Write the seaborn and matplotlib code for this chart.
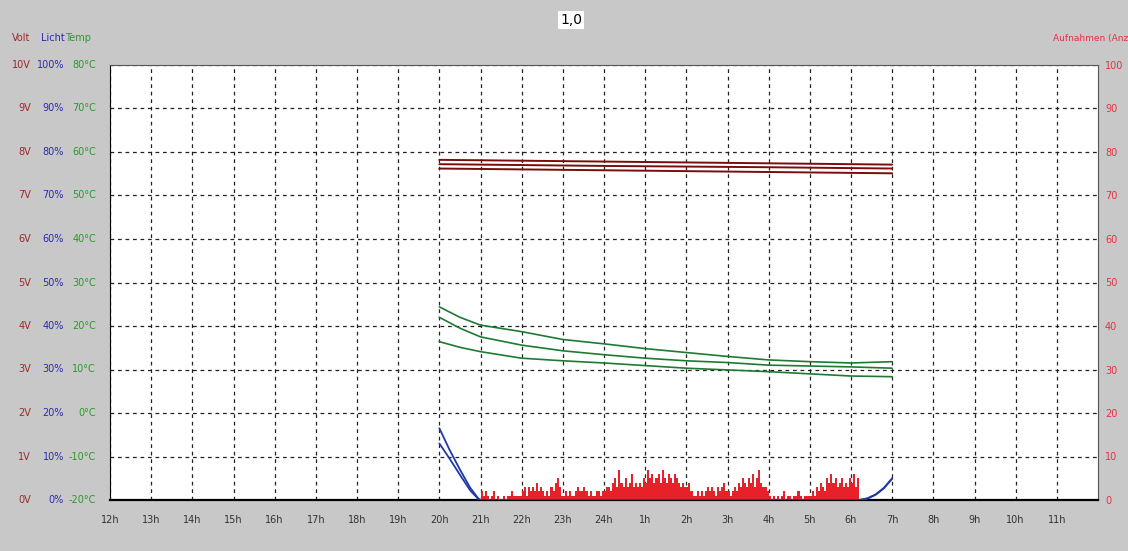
import numpy as np
import pandas as pd
import matplotlib
matplotlib.use("Agg")
import matplotlib.pyplot as plt
import matplotlib.transforms as mtransforms
import seaborn as sns

# ---- data (hours since midnight of day 1; 31 = 7h next morning) ----
hour_ticks = list(range(12, 36))
hour_labels = [f"{h if h <= 24 else h - 24}h" for h in hour_ticks]

volt_x = [20, 24, 28, 31]
volt_top = [7.82, 7.78, 7.74, 7.71]
volt_mid = [7.72, 7.68, 7.65, 7.62]
volt_low = [7.62, 7.58, 7.54, 7.51]

temp_x = [20, 20.5, 21, 22, 23, 24, 25, 26, 27, 28, 29, 30, 31]
temp_top = [24.4, 22.0, 20.2, 18.7, 16.9, 15.9, 14.8, 13.9, 13.0, 12.2, 11.8, 11.5, 11.8]
temp_mid = [22.0, 19.5, 17.5, 15.6, 14.3, 13.4, 12.6, 12.0, 11.6, 11.0, 10.8, 10.6, 10.3]
temp_low = [16.4, 15.1, 14.1, 12.6, 12.0, 11.5, 10.9, 10.3, 9.9, 9.5, 9.0, 8.5, 8.35]

licht_x = [20.0, 20.25, 20.5, 20.75, 20.95, 21.0, 25.0, 30.2, 30.4, 30.6, 30.8, 31.0]
licht_a = [16.5, 11.5, 7.0, 2.8, 0.3, 0.0, 0.0, 0.0, 0.4, 1.3, 2.8, 5.0]
licht_b = [13.0, 9.5, 5.8, 2.2, 0.2, 0.0, 0.0, 0.0, 0.3, 1.2, 2.7, 4.9]

# Aufnahmen per 3-minute slot, starting 21h
aufn_start = 21.0
aufn_step = 0.05
aufn = [
    2, 1, 2, 1, 0, 1, 2, 0, 1, 0, 0, 1, 0, 1, 1, 2, 1, 1, 1, 1,   # 21h
    2, 3, 1, 3, 2, 3, 2, 4, 2, 3, 2, 1, 2, 1, 3, 2, 4, 5, 3, 1,   # 22h
    1, 2, 1, 2, 1, 1, 2, 3, 2, 2, 3, 2, 1, 2, 1, 1, 2, 2, 1, 2,   # 23h
    2, 3, 3, 2, 4, 5, 3, 7, 4, 3, 5, 3, 4, 6, 3, 4, 3, 4, 3, 5,   # 24h
    4, 7, 5, 6, 4, 5, 6, 4, 7, 5, 4, 6, 5, 4, 6, 5, 4, 3, 4, 3,   # 1h
    3, 4, 2, 1, 1, 2, 1, 2, 1, 2, 3, 2, 3, 2, 1, 3, 2, 3, 4, 2,   # 2h
    2, 1, 2, 3, 2, 4, 3, 5, 4, 3, 5, 4, 6, 3, 5, 7, 4, 3, 3, 2,   # 3h
    1, 0, 1, 0, 1, 0, 1, 2, 0, 1, 1, 0, 1, 1, 2, 1, 0, 1, 1, 1,   # 4h
    1, 2, 1, 3, 2, 4, 3, 2, 5, 4, 6, 4, 5, 3, 4, 5, 3, 4, 3, 5,   # 5h
    4, 6, 3, 5,                                                   # 6h
]

# ---- colours ----
BG = "#c8c8c8"
C_VOLT = "#7a0c0c"
C_VOLT_LBL = "#9a2a2a"
C_LICHT = "#1f3aa8"
C_LICHT_LBL = "#2a2ab0"
C_TEMP = "#1e7a32"
C_TEMP_LBL = "#2a9a2a"
C_AUFN = "#e8202a"
C_AUFN_LBL = "#e83040"

sns.set_style("white")
plt.rcParams["font.family"] = ["DejaVu Sans"]

W, H = 1128, 551
fig = plt.figure(figsize=(W / 100, H / 100), dpi=100, facecolor=BG)
ax = fig.add_axes([110 / W, 51 / H, 988 / W, 435 / H])
ax.set_facecolor("white")
ax.set_xlim(12, 36)
ax.set_ylim(0, 100)

# grid
ax.set_xticks(hour_ticks)
ax.set_yticks(range(0, 101, 10))
ax.grid(True, color="#222222", linestyle=(0, (3, 3)), linewidth=0.9)
ax.set_yticklabels([])
ax.tick_params(axis="y", length=0)
ax.set_xticklabels(hour_labels, fontsize=7, color="#333333")
ax.tick_params(axis="x", direction="inout", length=5, width=1, color="black", pad=8)

for side in ["top", "right"]:
    ax.spines[side].set_color("#555555")
    ax.spines[side].set_linewidth(0.8)
ax.spines["left"].set_color("black")
ax.spines["bottom"].set_color("black")
ax.spines["bottom"].set_linewidth(1.6)

# Aufnahmen bars on right axis
ax2 = ax.twinx()
ax2.set_ylim(0, 100)
ax2.set_yticks(range(0, 101, 10))
ax2.set_yticklabels([str(v) for v in range(0, 101, 10)], fontsize=7, color=C_AUFN_LBL)
ax2.tick_params(axis="y", length=0, pad=5)
for s in ax2.spines.values():
    s.set_visible(False)
aufn_x = [aufn_start + i * aufn_step for i in range(len(aufn))]
ax2.bar(aufn_x, aufn, width=aufn_step, align="edge", color=C_AUFN, linewidth=0, zorder=2)

# lines (converted to the common 0..100 scale)
volt_df = pd.DataFrame({"x": volt_x * 3,
                        "y": [v * 10 for v in volt_top + volt_mid + volt_low],
                        "s": ["a"] * 4 + ["b"] * 4 + ["c"] * 4})
temp_df = pd.DataFrame({"x": temp_x * 3,
                        "y": [t + 20 for t in temp_top + temp_mid + temp_low],
                        "s": ["a"] * 13 + ["b"] * 13 + ["c"] * 13})
licht_df = pd.DataFrame({"x": licht_x * 2,
                         "y": licht_a + licht_b,
                         "s": ["a"] * len(licht_x) + ["b"] * len(licht_x)})

sns.lineplot(data=volt_df, x="x", y="y", units="s", estimator=None, ax=ax2,
             color=C_VOLT, linewidth=1.4, zorder=3)
sns.lineplot(data=temp_df, x="x", y="y", units="s", estimator=None, ax=ax2,
             color=C_TEMP, linewidth=1.2, zorder=3)
sns.lineplot(data=licht_df, x="x", y="y", units="s", estimator=None, ax=ax2,
             color=C_LICHT, linewidth=1.3, zorder=4)
ax2.set_xlabel("")
ax2.set_ylabel("")
ax.set_xlabel("")
ax.set_ylabel("")

# left tick label columns
tr = mtransforms.blended_transform_factory(fig.transFigure, ax.transData)
for v in range(0, 101, 10):
    ax.text(31 / W, v, f"{v // 10}V", transform=tr, ha="right", va="center",
            fontsize=7, color=C_VOLT_LBL)
    ax.text(64 / W, v, f"{v}%", transform=tr, ha="right", va="center",
            fontsize=7, color=C_LICHT_LBL)
    ax.text(96 / W, v, f"{v - 20}°C", transform=tr, ha="right", va="center",
            fontsize=7, color=C_TEMP_LBL)

# header labels
fig.text(12 / W, 1 - 38 / H, "Volt", fontsize=7, color=C_VOLT_LBL, va="center")
t_licht = fig.text(41 / W, 1 - 38 / H, "Licht", fontsize=7, color=C_LICHT_LBL, va="center")
t_temp = fig.text(0, 1 - 38 / H, "Temp", fontsize=7, color=C_TEMP_LBL, va="center")
# place "Temp" right after "Licht"
fig.canvas.draw()
bb = t_licht.get_window_extent()
t_temp.set_position(((bb.x1 + 0.5) / W, 1 - 38 / H))
fig.text(1053 / W, 1 - 38 / H, "Aufnahmen (Anz", fontsize=6.5, color=C_AUFN_LBL, va="center")
fig.text(571 / W, 1 - 20 / H, "1,0", fontsize=10, color="black", ha="center", va="center",
         bbox=dict(facecolor="white", edgecolor="none", pad=1.5))

fig.savefig("out.png", dpi=100, facecolor=BG)
